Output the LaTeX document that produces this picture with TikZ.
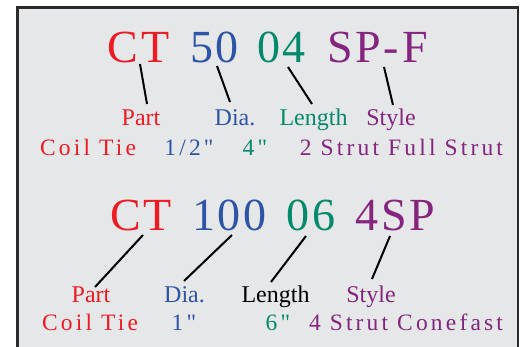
\documentclass[tikz,border=0pt]{standalone}
\usepackage{fontspec}
\setmainfont{Liberation Serif}
\newfontfamily\codefont[LetterSpace=6]{Liberation Serif}
\newfontfamily\valfont[LetterSpace=13.5]{Liberation Serif}

\definecolor{partred}{HTML}{ED1C24}
\definecolor{diablue}{HTML}{2E55A5}
\definecolor{lengreen}{HTML}{00896A}
\definecolor{stypurple}{HTML}{84267E}
\definecolor{panel}{HTML}{E6E7E9}
\definecolor{rim}{HTML}{2B2B2B}

\tikzset{
  code/.style={anchor=base, inner sep=0pt, font=\codefont\fontsize{46}{46}\selectfont},
  lab/.style={anchor=base, inner sep=0pt, font=\fontsize{24}{24}\selectfont},
  val/.style={anchor=base, inner sep=0pt, font=\valfont\fontsize{23.5}{24}\selectfont},
  lead/.style={black, line width=2pt}
}

\begin{document}
\begin{tikzpicture}[x=1pt,y=-1pt]

\useasboundingbox (0,0) rectangle (520,346);

% PANEL
  \draw[rim, fill=panel, line width=2.5pt] (17.6,7.4) rectangle (518,352);

% FIRST CODE
  \node[code, partred]   (ct1) at (138.5,62) {CT};
  \node[code, diablue]   (d1)  at (214.5,62) {50};
  \node[code, lengreen]  (l1)  at (281.5,62) {04};
  \node[code, stypurple] (s1)  at (377.5,62) {SP-F};

  \node[lab, partred]   (part1) at (141,125)   {Part};
  \node[lab, diablue]   (dia1)  at (235,125)   {Dia.};
  \node[lab, lengreen]  (len1)  at (313.5,125) {Length};
  \node[lab, stypurple] (sty1)  at (391,125)   {Style};

  \node[val, partred]   (coil1)  at (88,155)   {Coil Tie};
  \node[val, diablue]   (size1)  at (189,155)  {1/2"};
  \node[val, lengreen]  (long1)  at (255,155)  {4"};
  \node[val, stypurple] (strut1) at (401.5,155) {2 Strut Full Strut};

  \draw[lead] ([shift={(1.5,2)}]ct1.base)  -- ([shift={(6,-21)}]part1.base);
  \draw[lead] ([shift={(2.5,4)}]d1.base)   -- ([shift={(-5,-23)}]dia1.base);
  \draw[lead] ([shift={(6.5,5)}]l1.base)   -- ([shift={(-1.5,-21)}]len1.base);
  \draw[lead] ([shift={(6.5,5)}]s1.base)   -- ([shift={(2,-20)}]sty1.base);

% SECOND CODE
  \node[code, partred]   (ct2) at (141,230)   {CT};
  \node[code, diablue]   (d2)  at (229.5,230) {100};
  \node[code, lengreen]  (l2)  at (311,230)   {06};
  \node[code, stypurple] (s2)  at (395.5,230) {4SP};

  \node[lab, partred]   (part2) at (91,302)    {Part};
  \node[lab, diablue]   (dia2)  at (184.5,302) {Dia.};
  \node[lab, black]     (len2)  at (275.5,302) {Length};
  \node[lab, stypurple] (sty2)  at (371,302)   {Style};

  \node[val, partred]   (coil2)  at (90,330)   {Coil Tie};
  \node[val, diablue]   (size2)  at (184,330)  {1"};
  \node[val, lengreen]  (long2)  at (278,330)  {6"};
  \node[val, stypurple] (strut2) at (406,330)  {4 Strut Conefast};

  \draw[lead] ([shift={(2,5)}]ct2.base)    -- ([shift={(4,-15)}]part2.base);
  \draw[lead] ([shift={(2.5,5)}]d2.base)   -- ([shift={(-0.5,-21)}]dia2.base);
  \draw[lead] ([shift={(-5,6)}]l2.base)    -- ([shift={(-4.5,-20)}]len2.base);
  \draw[lead] ([shift={(-5.5,6)}]s2.base)  -- ([shift={(1,-23)}]sty2.base);

\end{tikzpicture}
\end{document}
